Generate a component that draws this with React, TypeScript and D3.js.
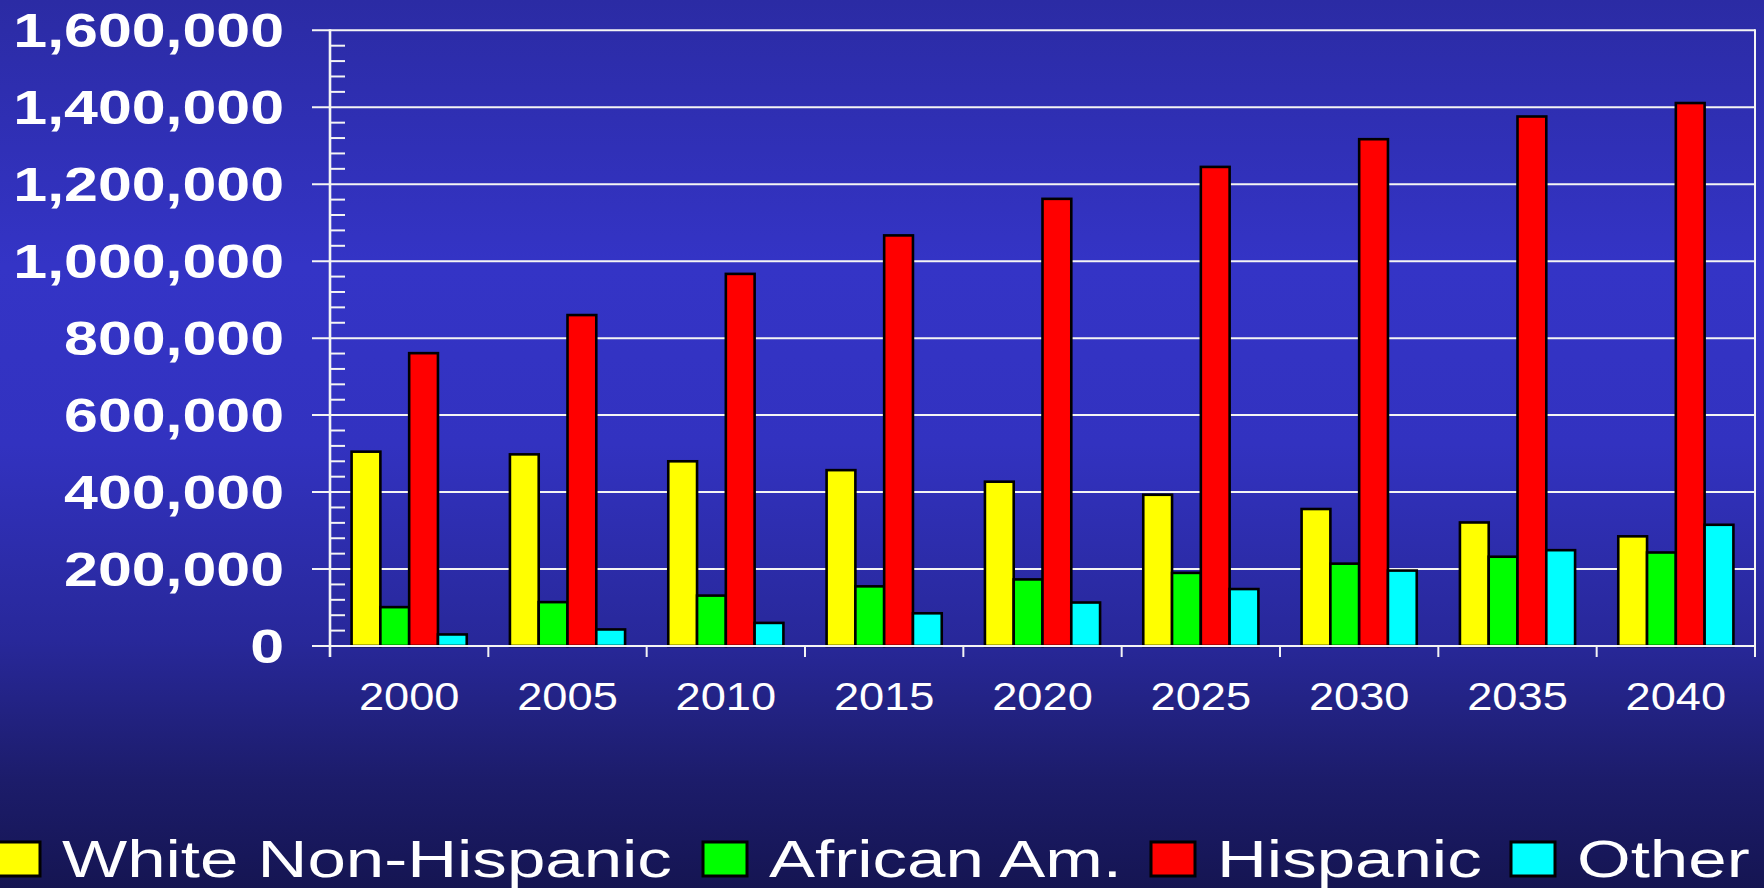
import React from "react";
import * as d3 from "d3";

// ---- data ----
const years = ["2000", "2005", "2010", "2015", "2020", "2025", "2030", "2035", "2040"];
const seriesNames = ["White Non-Hispanic", "African Am.", "Hispanic", "Other"];
const whiteNonHispanic = [505000, 498000, 480000, 457000, 427000, 393000, 356000, 321000, 285000];
const africanAm = [101000, 114000, 131000, 155000, 173000, 190000, 214000, 232000, 243000];
const hispanic = [761000, 860000, 967000, 1067000, 1162000, 1245000, 1317000, 1376000, 1411000];
const other = [30000, 43000, 60000, 85000, 113000, 148000, 196000, 249000, 315000];
const yTicks = [0, 200000, 400000, 600000, 800000, 1000000, 1200000, 1400000, 1600000];

// ---- styles / layout ----
const colors = ["#ffff00", "#00ff00", "#ff0000", "#00ffff"];
const W = 1764;
const H = 888;
const plot = { left: 330, right: 1755, top: 30.3, bottom: 646 };
const legendSquareX = [-5, 702, 1150, 1510];
const FONT = "'Liberation Sans', Arial, Helvetica, sans-serif";

export default function App() {
  const values = [whiteNonHispanic, africanAm, hispanic, other];

  const x0 = d3.scaleBand<string>().domain(years).range([plot.left, plot.right]).paddingInner(0).paddingOuter(0);
  const x1 = d3
    .scaleBand<string>()
    .domain(seriesNames)
    .range([0, x0.bandwidth()])
    .paddingInner(0)
    .paddingOuter(0.75);
  const y = d3.scaleLinear().domain([0, 1600000]).range([plot.bottom, plot.top]);

  const minorTicks = d3.range(0, 1600001, 40000).filter((v) => v % 200000 !== 0);
  const fmt = d3.format(",");

  return (
    <svg
      width={W}
      height={H}
      viewBox={`0 0 ${W} ${H}`}
      style={{ position: "absolute", left: 0, top: 0, display: "block" }}
    >
      <defs>
        <linearGradient id="bg" x1="0" y1="0" x2="0" y2="1">
          <stop offset="0" stopColor="#2b2ba4" />
          <stop offset="0.3" stopColor="#3434c6" />
          <stop offset="0.5" stopColor="#3232c0" />
          <stop offset="0.72" stopColor="#28289a" />
          <stop offset="0.88" stopColor="#1c1c6a" />
          <stop offset="1" stopColor="#151552" />
        </linearGradient>
      </defs>
      <rect x={0} y={0} width={W} height={H} fill="url(#bg)" />

      {/* gridlines + major ticks */}
      {yTicks.map((t) => (
        <line
          key={"g" + t}
          x1={312}
          x2={plot.right}
          y1={y(t)}
          y2={y(t)}
          stroke="#f4f4f4"
          strokeWidth={2}
        />
      ))}
      {/* right border */}
      <line x1={plot.right} x2={plot.right} y1={plot.top - 1} y2={plot.bottom + 11} stroke="#f4f4f4" strokeWidth={2} />

      {/* bars */}
      {years.map((yr, i) => (
        <g key={yr} transform={`translate(${x0(yr)},0)`}>
          {seriesNames.map((s, j) => (
            <rect
              key={s}
              x={x1(s)!}
              y={y(values[j][i])}
              width={x1.bandwidth()}
              height={plot.bottom - y(values[j][i])}
              fill={colors[j]}
              stroke="#000"
              strokeWidth={2.6}
            />
          ))}
        </g>
      ))}

      {/* baseline */}
      <line x1={312} x2={plot.right} y1={y(0)} y2={y(0)} stroke="#f4f4f4" strokeWidth={2} />

      {/* y axis */}
      <line x1={plot.left} x2={plot.left} y1={plot.top - 1} y2={plot.bottom + 11} stroke="#f4f4f4" strokeWidth={2.6} />
      {minorTicks.map((t) => (
        <line key={"m" + t} x1={plot.left} x2={plot.left + 15} y1={y(t)} y2={y(t)} stroke="#f4f4f4" strokeWidth={2} />
      ))}

      {/* category ticks */}
      {years.map((yr) => (
        <line
          key={"c" + yr}
          x1={x0(yr)! + x0.bandwidth()}
          x2={x0(yr)! + x0.bandwidth()}
          y1={plot.bottom}
          y2={plot.bottom + 11}
          stroke="#f4f4f4"
          strokeWidth={2}
        />
      ))}

      {/* y labels */}
      {yTicks.map((t) => (
        <text
          key={"yl" + t}
          transform={`translate(284,${y(t) + 17}) scale(1.255,1)`}
          textAnchor="end"
          fill="#fff"
          fontFamily={FONT}
          fontWeight="bold"
          fontSize={48.5}
        >
          {fmt(t)}
        </text>
      ))}

      {/* x labels */}
      {years.map((yr) => (
        <text
          key={"xl" + yr}
          transform={`translate(${x0(yr)! + x0.bandwidth() / 2},710) scale(1.19,1)`}
          textAnchor="middle"
          fill="#fff"
          fontFamily={FONT}
          fontSize={38}
        >
          {yr}
        </text>
      ))}

      {/* legend */}
      {seriesNames.map((s, j) => (
        <g key={"lg" + s}>
          <rect
            x={legendSquareX[j] + 1}
            y={842}
            width={44}
            height={34}
            fill={colors[j]}
            stroke="#000"
            strokeWidth={3}
          />
          <text
            transform={`translate(${legendSquareX[j] + 67},877) scale(1.315,1)`}
            fill="#fff"
            fontFamily={FONT}
            fontSize={52.5}
          >
            {s}
          </text>
        </g>
      ))}
    </svg>
  );
}
